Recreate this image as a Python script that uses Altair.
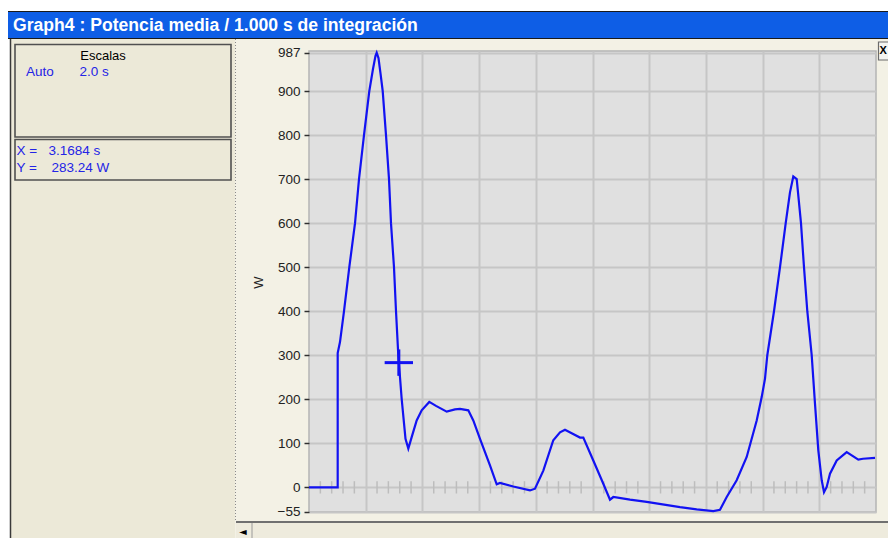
import altair as alt
import pandas as pd

# ---------------- data ----------------
time_s = [0.000, 1.012, 1.012, 1.093, 1.235, 1.422, 1.623, 1.764, 1.940, 2.127,
          2.257, 2.346, 2.388, 2.451, 2.522, 2.600, 2.716, 2.822, 2.892, 2.998,
          3.069, 3.150, 3.270, 3.404, 3.503, 3.622, 3.798, 3.975, 4.243, 4.480,
          4.857, 5.150, 5.326, 5.619, 5.795, 6.032, 6.384, 6.621, 6.737, 7.206,
          7.795, 7.972, 8.265, 8.617, 8.854, 9.030, 9.266, 9.559, 9.676, 10.028,
          10.370, 10.617, 10.734, 11.323, 11.912, 13.086, 13.675, 14.261, 14.497, 14.734,
          15.086, 15.439, 15.792, 15.968, 16.085, 16.166, 16.402, 16.614, 16.815, 16.966,
          17.083, 17.203, 17.354, 17.460, 17.577, 17.732, 17.788, 17.848, 17.965, 18.085,
          18.166, 18.261, 18.377, 18.614, 18.966, 19.376, 19.542, 19.965]
power_w = [0, 0, 305, 330, 400, 500, 600, 700, 800, 900,
           950, 980, 987, 975, 940, 900, 800, 700, 600, 500,
           400, 300, 200, 110, 88, 114, 152, 175, 194, 185,
           172, 177, 178, 175, 152, 110, 50, 7, 10, 2,
           -7, -3, 38, 107, 125, 131, 123, 113, 113, 61,
           10, -28, -22, -28, -33, -45, -50, -54, -51, -22,
           16, 69, 152, 205, 247, 300, 400, 500, 600, 670,
           706, 700, 600, 500, 400, 300, 247, 190, 84, 16,
           -11, 1, 31, 61, 80, 63, 65, 67]

y_tick_values = [-55, 0, 100, 200, 300, 400, 500, 600, 700, 800, 900, 987]
x_grid_values = [2, 4, 6, 8, 10, 12, 14, 16, 18]
minor_tick_times = [round(0.4 * k, 1) for k in range(1, 50) if k % 5]

cursor_time = [3.1684]
cursor_power = [283.24]

title_text = "Graph4 : Potencia media / 1.000 s de integración"
scales_header = "Escalas"
scales_mode = "Auto"
scales_value = "2.0 s"
cursor_x_label = ["X =", "3.1684 s"]
cursor_y_label = ["Y =", "283.24 W"]
y_title = "W"

# ---------------- styling ----------------
BLUE = "#1212F2"
TXT_BLUE = "#2424E6"
PLOT_W, PLOT_H = 567, 461
OX, OY = 309, 51          # page position of the plot area
TOTAL_W, TOTAL_H = 880, 530


def vx(px):
    return px - OX


def vy(py):
    return py - OY


one = pd.DataFrame({"k": [0]})


def rect(x1, x2, y1, y2, fill, stroke=None, sw=0):
    kw = dict(fill=fill)
    if stroke:
        kw.update(stroke=stroke, strokeWidth=sw)
    return alt.Chart(one).mark_rect(**kw).encode(
        x=alt.value(vx(x1)), x2=alt.value(vx(x2)),
        y=alt.value(vy(y1)), y2=alt.value(vy(y2)))


def hrule(x1, x2, y, color, w=1, dash=None):
    kw = dict(color=color, strokeWidth=w)
    if dash:
        kw["strokeDash"] = dash
    return alt.Chart(one).mark_rule(**kw).encode(
        x=alt.value(vx(x1)), x2=alt.value(vx(x2)), y=alt.value(vy(y)))


def vrule(x, y1, y2, color, w=1, dash=None):
    kw = dict(color=color, strokeWidth=w)
    if dash:
        kw["strokeDash"] = dash
    return alt.Chart(one).mark_rule(**kw).encode(
        x=alt.value(vx(x)), y=alt.value(vy(y1)), y2=alt.value(vy(y2)))


def text(s, x, y, color="#000000", size=13, weight="normal", align="left",
         font="Liberation Sans"):
    return alt.Chart(one).mark_text(
        text=s, color=color, fontSize=size, fontWeight=weight, align=align,
        baseline="middle", font=font).encode(
        x=alt.value(vx(x)), y=alt.value(vy(y)))


# ---------------- chart itself ----------------
xs = alt.Scale(domain=[0, 20], nice=False, zero=False)
ys = alt.Scale(domain=[-56, 991], nice=False, zero=False)

x_axis = alt.Axis(values=x_grid_values, grid=True, labels=False,
                  ticks=False, domain=False, title=None,
                  gridColor="#C6C6C6", gridWidth=2)
y_axis = alt.Axis(values=y_tick_values, format="d", grid=True,
                  gridColor="#C6C6C6", gridWidth=2, domain=False,
                  tickColor="#303030", tickWidth=1.5, tickSize=5,
                  labelPadding=4, labelFont="Liberation Sans",
                  labelFontSize=13.5, labelColor="#222222",
                  labelFlush=False, labelOverlap=False,
                  title=y_title, titleFont="Liberation Sans",
                  titleFontSize=13, titleFontWeight="normal",
                  titleColor="#222222", titleX=-51, titleY=231,
                  titleAngle=270, titleAlign="center",
                  titleBaseline="middle")

df = pd.DataFrame({"t": time_s, "p": power_w, "i": list(range(len(time_s)))})
line = alt.Chart(df).mark_line(color=BLUE, strokeWidth=2.2).encode(
    x=alt.X("t:Q", scale=xs, axis=x_axis),
    y=alt.Y("p:Q", scale=ys, axis=y_axis),
    order="i:Q")

minor_df = pd.DataFrame({"t": minor_tick_times,
                         "p": [-14] * len(minor_tick_times),
                         "hi": [14] * len(minor_tick_times)})
minor = alt.Chart(minor_df).mark_rule(color="#BDBDBD", strokeWidth=1.5).encode(
    x=alt.X("t:Q", scale=xs, axis=x_axis),
    y=alt.Y("p:Q", scale=ys, axis=y_axis),
    y2="hi:Q")

cur_h = pd.DataFrame({"t": [cursor_time[0] - 0.5], "b": [cursor_time[0] + 0.5],
                      "p": cursor_power})
cur_v = pd.DataFrame({"t": cursor_time, "p": [cursor_power[0] - 30],
                      "hi": [cursor_power[0] + 30]})
cursor_h = alt.Chart(cur_h).mark_rule(color=BLUE, strokeWidth=3).encode(
    x=alt.X("t:Q", scale=xs, axis=x_axis), x2="b:Q",
    y=alt.Y("p:Q", scale=ys, axis=y_axis))
cursor_v = alt.Chart(cur_v).mark_rule(color=BLUE, strokeWidth=3).encode(
    x=alt.X("t:Q", scale=xs, axis=x_axis),
    y=alt.Y("p:Q", scale=ys, axis=y_axis), y2="hi:Q")

layers = [minor, line, cursor_h, cursor_v]

# ---------------- window decorations ----------------
deco = []
deco.append(rect(0, 900, 0, 11, "#FFFFFF"))
deco.append(rect(0, 10, 0, 540, "#FFFFFF"))
deco.append(rect(10, 235, 39, 540, "#ECE9D8"))
deco.append(vrule(10.5, 39, 540, "#3a3a3a", 1.5))
deco.append(vrule(235.5, 39, 520, "#8a8a8a", 1, [1, 2]))
deco.append(rect(0, 900, 11, 39, "#0E5EE6"))
deco.append(hrule(0, 900, 11.5, "#1a1a1a", 1))
deco.append(hrule(0, 900, 38.5, "#1a1a1a", 1.2))
deco.append(text(title_text, 13, 25.5, "#FFFFFF", 17.6, "bold"))
deco.append(rect(15, 231, 44.5, 137, "#ECE9D8", "#505050", 1.6))
deco.append(rect(15, 231, 139.5, 180, "#ECE9D8", "#505050", 1.6))
deco.append(text(scales_header, 103, 56, "#000000", 13, align="center"))
deco.append(text(scales_mode, 26, 72, TXT_BLUE, 13.5))
deco.append(text(scales_value, 79.5, 72, TXT_BLUE, 13.5))
deco.append(text(cursor_x_label[0], 16.5, 151, TXT_BLUE, 13.5))
deco.append(text(cursor_x_label[1], 48.5, 151, TXT_BLUE, 13.5))
deco.append(text(cursor_y_label[0], 16.5, 168, TXT_BLUE, 13.5))
deco.append(text(cursor_y_label[1], 51.5, 168, TXT_BLUE, 13.5))
deco.append(rect(878.5, 900, 42, 60, "#F4F4F0", "#6a6a6a", 1.2))
deco.append(text("X", 883.2, 51, "#000000", 11, "bold", align="center"))
deco.append(rect(236, 900, 523, 540, "#EEEBDD"))
deco.append(hrule(236, 900, 522, "#707070", 2))
deco.append(vrule(252, 523, 540, "#9a9a9a", 1))
deco.append(text("◄", 239, 531.5, "#000000", 10, font="DejaVu Sans"))

chart = alt.layer(*(layers + deco)).properties(
    width=PLOT_W, height=PLOT_H,
    autosize=alt.AutoSizeParams(type="none"),
    padding={"left": OX - 8, "top": OY - 8,
             "right": TOTAL_W - (OX - 8) - PLOT_W,
             "bottom": TOTAL_H - (OY - 8) - PLOT_H},
).configure(background="#F3F1E5").configure_view(fill="#E0E0E0", stroke="#B4B4B4",
                                                 strokeWidth=1.5)

chart.save("out.html", embed_options={"renderer": "svg", "actions": False})
